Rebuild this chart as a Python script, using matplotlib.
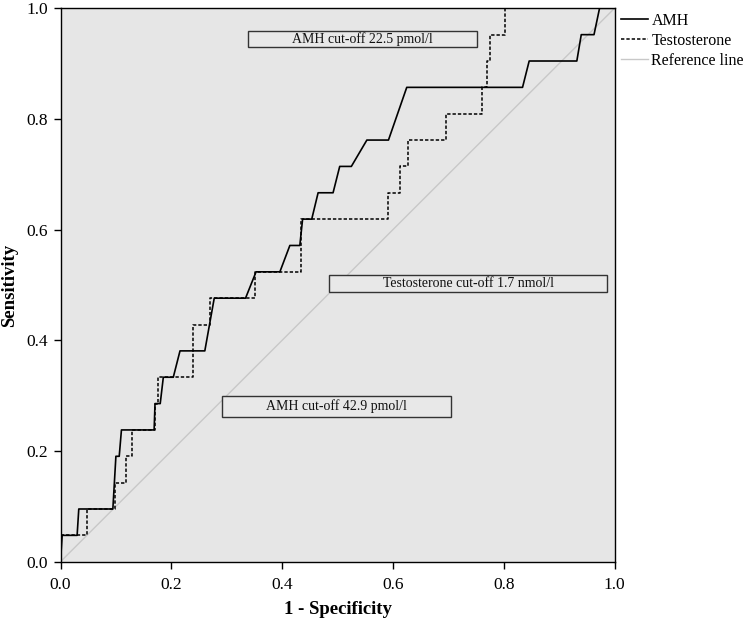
import matplotlib
matplotlib.use("Agg")
import matplotlib.pyplot as plt
from matplotlib.patches import Rectangle

# ---- data (1 - specificity, sensitivity) ----
amh_fpr = [0.0, 0.003, 0.030, 0.033, 0.0945, 0.100, 0.106, 0.110, 0.119, 0.169, 0.1706,
           0.180, 0.1856, 0.2036, 0.2157, 0.2605, 0.2775, 0.334, 0.353, 0.396, 0.414,
           0.432, 0.437, 0.4535, 0.465, 0.492, 0.504, 0.525, 0.553, 0.592, 0.625,
           0.834, 0.846, 0.932, 0.940, 0.963, 0.973, 1.0]
amh_k = [0, 1, 1, 2, 2, 4, 4, 5, 5, 5, 6,
         6, 7, 7, 8, 8, 10, 10, 11, 11, 12,
         12, 13, 13, 14, 14, 15, 15, 16, 16, 18,
         18, 19, 19, 20, 20, 21, 21]

testo_fpr = [0.0, 0.0, 0.047, 0.047, 0.098, 0.098, 0.119, 0.119, 0.129, 0.129, 0.170,
             0.170, 0.1765, 0.1765, 0.240, 0.240, 0.270, 0.270, 0.351, 0.351, 0.4345,
             0.4345, 0.592, 0.592, 0.613, 0.613, 0.627, 0.627, 0.696, 0.696, 0.760,
             0.760, 0.769, 0.769, 0.775, 0.775, 0.802, 0.802, 1.0]
testo_k = [0, 1, 1, 2, 2, 3, 3, 4, 4, 5, 5,
           6, 6, 7, 7, 9, 9, 10, 10, 11, 11,
           13, 13, 14, 14, 15, 15, 16, 16, 17, 17,
           18, 18, 19, 19, 20, 20, 21, 21]
n_pos = 21

ref_x = [0.0, 1.0]
ref_y = [0.0, 1.0]

ticks = [0.0, 0.2, 0.4, 0.6, 0.8, 1.0]
tick_labels = ["0.0", "0.2", "0.4", "0.6", "0.8", "1.0"]

# annotation boxes: text, (x0, x1, y0, y1) in data coords
box_texts = ["AMH cut-off 22.5 pmol/l", "Testosterone cut-off 1.7 nmol/l", "AMH cut-off 42.9 pmol/l"]
box_x0 = [0.339, 0.485, 0.292]
box_x1 = [0.752, 0.987, 0.704]
box_y0 = [0.9295, 0.487, 0.262]
box_y1 = [0.9595, 0.518, 0.300]

amh_sens = [k / n_pos for k in amh_k]
testo_sens = [k / n_pos for k in testo_k]

plt.rcParams['font.family'] = ['Liberation Serif', 'DejaVu Serif']

fig = plt.figure(figsize=(7.5, 6.19), dpi=100)
ax = fig.add_axes([60.5 / 750, (619 - 561.7) / 619, 554 / 750, 553.4 / 619])
ax.set_facecolor('#e6e6e6')

ax.plot(ref_x, ref_y, color='#c8c8c8', lw=1.0, label='Reference line', zorder=2)
ax.plot(amh_fpr, amh_sens, color='black', lw=1.2, label='AMH', zorder=4)
ax.plot(testo_fpr, testo_sens, color='black', lw=1.1, ls=(0, (2.2, 1.3)),
        label='Testosterone', zorder=3)

for t, x0, x1, y0, y1 in zip(box_texts, box_x0, box_x1, box_y0, box_y1):
    ax.add_patch(Rectangle((x0, y0), x1 - x0, y1 - y0, facecolor='#e8e8e8',
                           edgecolor='#333333', lw=1.0, zorder=5))
    ax.text((x0 + x1) / 2, (y0 + y1) / 2, t, ha='center', va='center',
            fontsize=10, color='#111111', zorder=6)

ax.set_xlim(0, 1)
ax.set_ylim(0, 1)
ax.set_xticks(ticks)
ax.set_xticklabels(tick_labels)
ax.set_yticks(ticks)
ax.set_yticklabels(tick_labels)
ax.tick_params(direction='out', length=5, width=1, labelsize=12.5, colors='black')
ax.tick_params(axis='x', pad=6)
ax.tick_params(axis='y', pad=4)
for s in ax.spines.values():
    s.set_color('black')
    s.set_linewidth(1.0)

ax.set_xlabel('1 - Specificity', fontsize=13.5, fontweight='bold', labelpad=6)
ax.set_ylabel('Sensitivity', fontsize=13.5, fontweight='bold', labelpad=6)

handles, labels = ax.get_legend_handles_labels()
order = [1, 2, 0]
ax.legend([handles[i] for i in order], [labels[i] for i in order],
          loc='upper left', bbox_to_anchor=(621 / 750, (619 - 13) / 619),
          bbox_transform=fig.transFigure, frameon=False,
          fontsize=11.5, handlelength=1.7, handletextpad=0.2,
          labelspacing=0.25, borderaxespad=0, borderpad=0)

fig.savefig('out.png', dpi=100)
